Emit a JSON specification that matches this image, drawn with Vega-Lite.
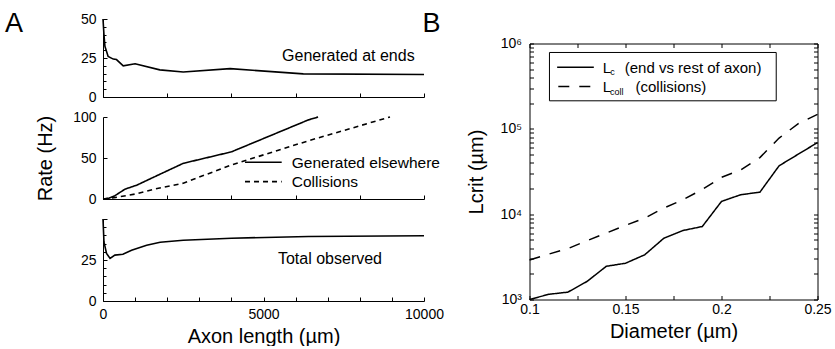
{
  "$schema": "https://vega.github.io/schema/vega-lite/v6.json",
  "padding": {"left": 5, "top": 9, "right": 0, "bottom": 0},
  "config": {
    "font": "Liberation Sans",
    "view": {"stroke": null},
    "axis": {"domainColor": "black", "tickColor": "black", "labelColor": "black", "titleColor": "black", "grid": false, "labelFontSize": 14, "titleFontSize": 20, "titleFontWeight": "normal", "tickSize": -4, "labelFlush": false, "labelOverlap": false, "domainWidth": 1, "tickWidth": 1},
    "title": {"fontSize": 27, "fontWeight": "normal", "color": "black"},
    "text": {"color": "black"}
  },
  "datasets": {
    "ends": [
      {"len": 0, "rate": 50}, {"len": 30, "rate": 40}, {"len": 60, "rate": 32.5}, {"len": 160, "rate": 26},
      {"len": 320, "rate": 24.3}, {"len": 420, "rate": 24}, {"len": 630, "rate": 20}, {"len": 1000, "rate": 21.3},
      {"len": 1770, "rate": 17.4}, {"len": 2500, "rate": 16}, {"len": 3960, "rate": 18.2}, {"len": 6240, "rate": 14.8},
      {"len": 10000, "rate": 14.4}
    ],
    "elsewhere": [
      {"series": "Generated elsewhere", "len": 0, "rate": 0}, {"series": "Generated elsewhere", "len": 150, "rate": 0.5},
      {"series": "Generated elsewhere", "len": 370, "rate": 4}, {"series": "Generated elsewhere", "len": 685, "rate": 12},
      {"series": "Generated elsewhere", "len": 1060, "rate": 17}, {"series": "Generated elsewhere", "len": 1600, "rate": 27},
      {"series": "Generated elsewhere", "len": 2500, "rate": 43.5}, {"series": "Generated elsewhere", "len": 4000, "rate": 57.5},
      {"series": "Generated elsewhere", "len": 6400, "rate": 96.5}, {"series": "Generated elsewhere", "len": 6700, "rate": 100},
      {"series": "Collisions", "len": 0, "rate": 0}, {"series": "Collisions", "len": 400, "rate": 2},
      {"series": "Collisions", "len": 1000, "rate": 6}, {"series": "Collisions", "len": 1600, "rate": 12},
      {"series": "Collisions", "len": 2500, "rate": 19.3}, {"series": "Collisions", "len": 4000, "rate": 41.5},
      {"series": "Collisions", "len": 6400, "rate": 71}, {"series": "Collisions", "len": 8940, "rate": 100}
    ],
    "total": [
      {"len": 0, "rate": 50}, {"len": 30, "rate": 36}, {"len": 110, "rate": 29}, {"len": 220, "rate": 26},
      {"len": 370, "rate": 28}, {"len": 620, "rate": 28.5}, {"len": 890, "rate": 31}, {"len": 1360, "rate": 34},
      {"len": 1780, "rate": 35.8}, {"len": 2500, "rate": 37}, {"len": 4000, "rate": 38.3}, {"len": 6400, "rate": 39.3},
      {"len": 10000, "rate": 39.8}
    ],
    "panelText": [
      {"panel": "ends", "len": 5580, "rate": 26, "label": "Generated at ends"},
      {"panel": "elsewhere", "len": 5880, "rate": 44, "label": "Generated elsewhere"},
      {"panel": "elsewhere", "len": 5880, "rate": 20.6, "label": "Collisions"},
      {"panel": "total", "len": 5450, "rate": 25.4, "label": "Total observed"}
    ],
    "legendA": [
      {"series": "Generated elsewhere", "len": 4424, "len2": 5567, "rate": 44.9},
      {"series": "Collisions", "len": 4424, "len2": 5567, "rate": 21.2}
    ],
    "lcrit": [
      {"series": "Lc", "diam": 0.10, "lcrit": 1000}, {"series": "Lc", "diam": 0.11, "lcrit": 1150},
      {"series": "Lc", "diam": 0.12, "lcrit": 1220}, {"series": "Lc", "diam": 0.13, "lcrit": 1630},
      {"series": "Lc", "diam": 0.14, "lcrit": 2450}, {"series": "Lc", "diam": 0.15, "lcrit": 2660},
      {"series": "Lc", "diam": 0.16, "lcrit": 3340}, {"series": "Lc", "diam": 0.17, "lcrit": 5230},
      {"series": "Lc", "diam": 0.18, "lcrit": 6440}, {"series": "Lc", "diam": 0.19, "lcrit": 7170},
      {"series": "Lc", "diam": 0.20, "lcrit": 14100}, {"series": "Lc", "diam": 0.21, "lcrit": 16900},
      {"series": "Lc", "diam": 0.22, "lcrit": 18100}, {"series": "Lc", "diam": 0.23, "lcrit": 36900},
      {"series": "Lc", "diam": 0.24, "lcrit": 50500}, {"series": "Lc", "diam": 0.25, "lcrit": 69000},
      {"series": "Lcoll", "diam": 0.10, "lcrit": 2900}, {"series": "Lcoll", "diam": 0.11, "lcrit": 3400},
      {"series": "Lcoll", "diam": 0.12, "lcrit": 3950}, {"series": "Lcoll", "diam": 0.13, "lcrit": 4900},
      {"series": "Lcoll", "diam": 0.14, "lcrit": 6000}, {"series": "Lcoll", "diam": 0.15, "lcrit": 7400},
      {"series": "Lcoll", "diam": 0.16, "lcrit": 9000}, {"series": "Lcoll", "diam": 0.17, "lcrit": 11800},
      {"series": "Lcoll", "diam": 0.18, "lcrit": 14800}, {"series": "Lcoll", "diam": 0.19, "lcrit": 19500},
      {"series": "Lcoll", "diam": 0.20, "lcrit": 27000}, {"series": "Lcoll", "diam": 0.21, "lcrit": 33000},
      {"series": "Lcoll", "diam": 0.22, "lcrit": 46000}, {"series": "Lcoll", "diam": 0.23, "lcrit": 78000},
      {"series": "Lcoll", "diam": 0.24, "lcrit": 115000}, {"series": "Lcoll", "diam": 0.25, "lcrit": 148000}
    ],
    "boxB": [{"diam": 0.1104, "diam2": 0.2285, "lcrit": 213000, "lcrit2": 785000}],
    "legendB": [
      {"series": "Lc", "diam": 0.1144, "diam2": 0.1335, "lcrit": 528000},
      {"series": "Lcoll", "diam": 0.1150, "diam2": 0.1318, "lcrit": 313000}
    ],
    "textB": [
      {"role": "main", "diam": 0.1381, "lcrit": 449000, "label": "L"},
      {"role": "sub", "diam": 0.1421, "lcrit": 422000, "label": "c"},
      {"role": "main", "diam": 0.1496, "lcrit": 449000, "label": "(end vs rest of axon)"},
      {"role": "main", "diam": 0.1381, "lcrit": 269000, "label": "L"},
      {"role": "sub", "diam": 0.1419, "lcrit": 251000, "label": "coll"},
      {"role": "main", "diam": 0.1552, "lcrit": 269000, "label": "(collisions)"}
    ],
    "empty": []
  },
  "columns": 2,
  "align": "none",
  "spacing": -21.5,
  "concat": [
    {
      "spacing": 6,
      "vconcat": [
        {
          "width": 321, "height": 78,
          "title": {"text": "A", "anchor": "start", "frame": "group", "dx": -98, "baseline": "alphabetic", "offset": -46.5},
          "resolve": {"axis": {"y": "independent"}},
          "layer": [
            {
              "data": {"name": "panelText"},
              "transform": [{"filter": "datum.panel == 'ends'"}],
              "mark": {"type": "text", "align": "left", "baseline": "middle", "fontSize": 16, "color": "black"},
              "encoding": {
                "x": {"field": "len", "type": "quantitative"},
                "y": {"field": "rate", "type": "quantitative",
                      "axis": {"orient": "left", "values": [0, 5, 10, 15, 20, 30, 35, 40, 45], "labels": false, "domain": false, "title": null, "tickSize": -3}},
                "text": {"field": "label"}
              }
            },
            {
              "data": {"name": "ends"},
              "mark": {"type": "line", "color": "black", "strokeWidth": 1.6},
              "encoding": {
                "x": {"field": "len", "type": "quantitative", "scale": {"domain": [0, 10000], "nice": false},
                      "axis": {"values": [0, 1000, 2000, 3000, 4000, 5000, 6000, 7000, 8000, 9000, 10000], "labels": false, "title": null}},
                "y": {"field": "rate", "type": "quantitative", "scale": {"domain": [0, 50], "nice": false},
                      "axis": {"orient": "left", "values": [0, 25, 50], "labelPadding": 11, "title": null}}
              }
            }
          ]
        },
        {
          "width": 321, "height": 82,
          "layer": [
            {
              "data": {"name": "elsewhere"},
              "mark": {"type": "line", "color": "black", "strokeWidth": 1.6},
              "encoding": {
                "x": {"field": "len", "type": "quantitative", "scale": {"domain": [0, 10000], "nice": false},
                      "axis": {"values": [0, 1000, 2000, 3000, 4000, 5000, 6000, 7000, 8000, 9000, 10000], "labels": false, "title": null}},
                "y": {"field": "rate", "type": "quantitative", "scale": {"domain": [0, 100], "nice": false},
                      "axis": {"values": [0, 50, 100], "labelPadding": 11, "title": "Rate (Hz)", "titlePadding": 17}},
                "strokeDash": {"field": "series", "type": "nominal", "scale": {"domain": ["Generated elsewhere", "Collisions", "Lc", "Lcoll"], "range": [[1, 0], [5, 4], [1, 0], [11, 10]]}, "legend": null}
              }
            },
            {
              "data": {"name": "legendA"},
              "mark": {"type": "rule", "color": "black", "strokeWidth": 1.6},
              "encoding": {
                "x": {"field": "len", "type": "quantitative"},
                "x2": {"field": "len2"},
                "y": {"field": "rate", "type": "quantitative"},
                "strokeDash": {"field": "series", "type": "nominal", "legend": null}
              }
            },
            {
              "data": {"name": "panelText"},
              "transform": [{"filter": "datum.panel == 'elsewhere'"}],
              "mark": {"type": "text", "align": "left", "baseline": "middle", "fontSize": 15.5, "color": "black"},
              "encoding": {
                "x": {"field": "len", "type": "quantitative"},
                "y": {"field": "rate", "type": "quantitative"},
                "text": {"field": "label"}
              }
            }
          ]
        },
        {
          "width": 321, "height": 82,
          "resolve": {"axis": {"x": "independent", "y": "independent"}},
          "layer": [
            {
              "data": {"name": "panelText"},
              "transform": [{"filter": "datum.panel == 'total'"}],
              "mark": {"type": "text", "align": "left", "baseline": "middle", "fontSize": 16, "color": "black"},
              "encoding": {
                "x": {"field": "len", "type": "quantitative",
                      "axis": {"orient": "bottom", "values": [1000, 2000, 3000, 4000, 6000, 7000, 8000, 9000], "labels": false, "domain": false, "title": null, "tickSize": -4}},
                "y": {"field": "rate", "type": "quantitative",
                      "axis": {"orient": "left", "values": [5, 10, 15, 20, 30, 35, 40, 45], "labels": false, "domain": false, "title": null, "tickSize": -3}},
                "text": {"field": "label"}
              }
            },
            {
              "data": {"name": "total"},
              "mark": {"type": "line", "color": "black", "strokeWidth": 1.6},
              "encoding": {
                "x": {"field": "len", "type": "quantitative", "scale": {"domain": [0, 10000], "nice": false},
                      "axis": {"orient": "bottom", "values": [0, 5000, 10000], "format": "d", "labelPadding": 10, "title": "Axon length (µm)", "titlePadding": 5}},
                "y": {"field": "rate", "type": "quantitative", "scale": {"domain": [0, 50], "nice": false},
                      "axis": {"orient": "left", "values": [0, 25, 50], "labelExpr": "datum.value == 50 ? '' : datum.label", "labelPadding": 11, "title": null}}
              }
            }
          ]
        }
      ]
    },
    {
      "spacing": -0.5,
      "vconcat": [
        {
          "width": 288, "height": 16,
          "title": {"text": "B", "anchor": "start", "frame": "group", "dx": -107, "baseline": "alphabetic", "offset": -39.5},
          "data": {"name": "empty"},
          "mark": {"type": "text"},
          "encoding": {"text": {"value": ""}}
        },
        {
          "width": 288, "height": 256,
          "resolve": {"axis": {"x": "independent", "y": "independent"}},
          "layer": [
            {
              "data": {"name": "lcrit"},
              "mark": {"type": "line", "color": "black", "strokeWidth": 1.5},
              "encoding": {
                "x": {"field": "diam", "type": "quantitative", "scale": {"domain": [0.1, 0.25], "nice": false, "zero": false},
                      "axis": {"orient": "bottom", "values": [0.1, 0.125, 0.15, 0.175, 0.2, 0.225, 0.25], "labelExpr": "abs(datum.value * 20 - round(datum.value * 20)) < 0.001 ? format(datum.value, '~g') : ''", "labelPadding": 7, "title": "Diameter (µm)", "titlePadding": 5}},
                "y": {"field": "lcrit", "type": "quantitative", "scale": {"type": "log", "domain": [1000, 1000000], "nice": false},
                      "axis": {"orient": "left", "values": [1000, 2000, 3000, 4000, 5000, 6000, 7000, 8000, 9000, 10000, 20000, 30000, 40000, 50000, 60000, 70000, 80000, 90000, 100000, 200000, 300000, 400000, 500000, 600000, 700000, 800000, 900000, 1000000],
                               "labelExpr": "datum.value == 1000 ? '10³' : datum.value == 10000 ? '10⁴' : datum.value == 100000 ? '10⁵' : datum.value == 1000000 ? '10⁶' : ''", "labelPadding": 12, "title": "Lcrit (µm)", "titlePadding": 13}},
                "strokeDash": {"field": "series", "type": "nominal", "scale": {"domain": ["Generated elsewhere", "Collisions", "Lc", "Lcoll"], "range": [[1, 0], [5, 4], [1, 0], [11, 10]]}, "legend": null}
              }
            },
            {
              "data": {"name": "boxB"},
              "mark": {"type": "rect", "fill": "white", "stroke": "black", "strokeWidth": 1},
              "encoding": {
                "x": {"field": "diam", "type": "quantitative",
                      "axis": {"orient": "top", "values": [0.1, 0.125, 0.15, 0.175, 0.2, 0.225, 0.25], "labels": false, "title": null}},
                "x2": {"field": "diam2"},
                "y": {"field": "lcrit", "type": "quantitative",
                      "axis": {"orient": "right", "values": [1000, 2000, 3000, 4000, 5000, 6000, 7000, 8000, 9000, 10000, 20000, 30000, 40000, 50000, 60000, 70000, 80000, 90000, 100000, 200000, 300000, 400000, 500000, 600000, 700000, 800000, 900000, 1000000], "labels": false, "title": null}},
                "y2": {"field": "lcrit2"}
              }
            },
            {
              "data": {"name": "legendB"},
              "mark": {"type": "rule", "color": "black", "strokeWidth": 1.5},
              "encoding": {
                "x": {"field": "diam", "type": "quantitative", "axis": null},
                "x2": {"field": "diam2"},
                "y": {"field": "lcrit", "type": "quantitative", "axis": null},
                "strokeDash": {"field": "series", "type": "nominal", "legend": null}
              }
            },
            {
              "data": {"name": "textB"},
              "transform": [{"filter": "datum.role == 'main'"}],
              "mark": {"type": "text", "align": "left", "baseline": "alphabetic", "fontSize": 15, "color": "black"},
              "encoding": {
                "x": {"field": "diam", "type": "quantitative", "axis": null},
                "y": {"field": "lcrit", "type": "quantitative", "axis": null},
                "text": {"field": "label"}
              }
            },
            {
              "data": {"name": "textB"},
              "transform": [{"filter": "datum.role == 'sub'"}],
              "mark": {"type": "text", "align": "left", "baseline": "alphabetic", "fontSize": 9, "color": "black"},
              "encoding": {
                "x": {"field": "diam", "type": "quantitative", "axis": null},
                "y": {"field": "lcrit", "type": "quantitative", "axis": null},
                "text": {"field": "label"}
              }
            }
          ]
        }
      ]
    }
  ]
}
